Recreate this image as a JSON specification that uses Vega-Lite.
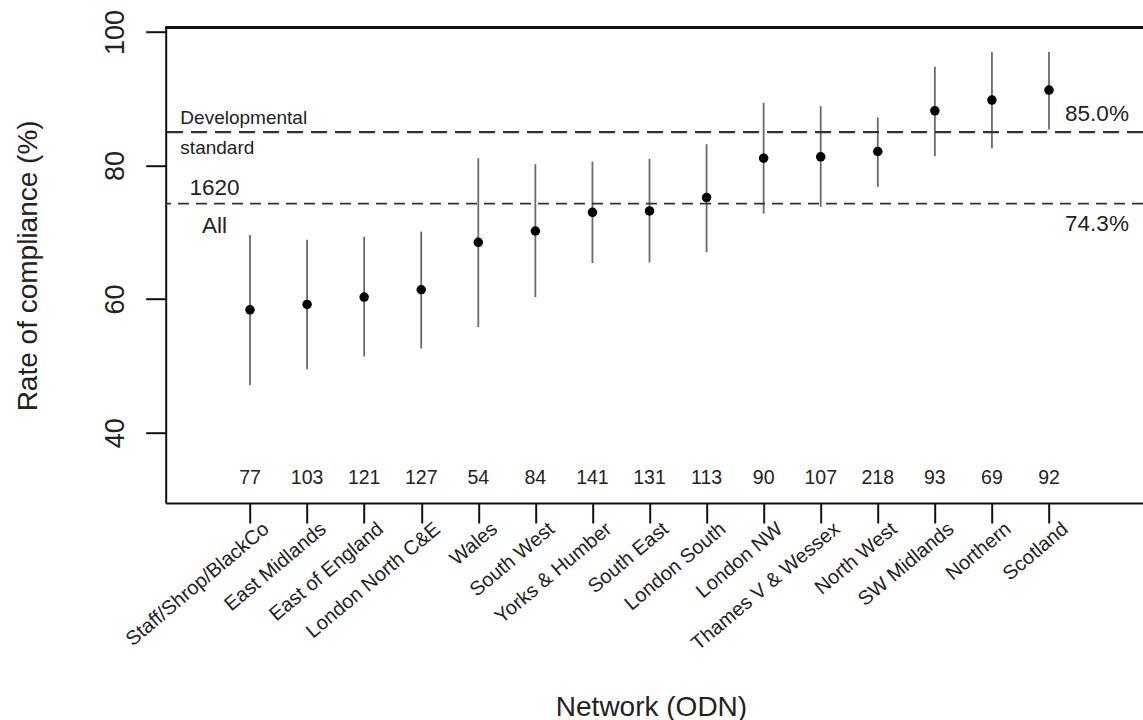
{
  "$schema": "https://vega.github.io/schema/vega-lite/v6.json",
  "width": 977.3,
  "height": 475.3,
  "autosize": "none",
  "padding": {"left": 165.7, "top": 27.7, "right": 0, "bottom": 217},
  "config": {
    "view": {"stroke": null},
    "font": "Liberation Sans",
    "axis": {"grid": false}
  },
  "datasets": {
    "networks": [
      {"rank": 1, "network": "Staff/Shrop/BlackCo", "rate": 58.4, "lower": 47.1, "upper": 69.6, "n": 77},
      {"rank": 2, "network": "East Midlands", "rate": 59.2, "lower": 49.5, "upper": 68.9, "n": 103},
      {"rank": 3, "network": "East of England", "rate": 60.3, "lower": 51.4, "upper": 69.3, "n": 121},
      {"rank": 4, "network": "London North C&E", "rate": 61.4, "lower": 52.6, "upper": 70.1, "n": 127},
      {"rank": 5, "network": "Wales", "rate": 68.5, "lower": 55.8, "upper": 81.1, "n": 54},
      {"rank": 6, "network": "South West", "rate": 70.2, "lower": 60.3, "upper": 80.2, "n": 84},
      {"rank": 7, "network": "Yorks & Humber", "rate": 73.0, "lower": 65.4, "upper": 80.6, "n": 141},
      {"rank": 8, "network": "South East", "rate": 73.2, "lower": 65.5, "upper": 81.0, "n": 131},
      {"rank": 9, "network": "London South", "rate": 75.2, "lower": 67.0, "upper": 83.2, "n": 113},
      {"rank": 10, "network": "London NW", "rate": 81.1, "lower": 72.8, "upper": 89.4, "n": 90},
      {"rank": 11, "network": "Thames V & Wessex", "rate": 81.3, "lower": 73.8, "upper": 88.9, "n": 107},
      {"rank": 12, "network": "North West", "rate": 82.1, "lower": 76.8, "upper": 87.2, "n": 218},
      {"rank": 13, "network": "SW Midlands", "rate": 88.2, "lower": 81.4, "upper": 94.8, "n": 93},
      {"rank": 14, "network": "Northern", "rate": 89.8, "lower": 82.6, "upper": 97.0, "n": 69},
      {"rank": 15, "network": "Scotland", "rate": 91.3, "lower": 85.4, "upper": 97.0, "n": 92}
    ],
    "refs": [
      {"name": "standard", "label": "Developmental standard", "value": 85.0, "pct": "85.0%"},
      {"name": "all", "label": "All", "n": 1620, "value": 74.3, "pct": "74.3%"}
    ]
  },
  "data": {"name": "networks"},
  "layer": [
    {
      "mark": {"type": "rule", "color": "#6a6a6a", "strokeWidth": 1.8},
      "encoding": {
        "x": {
          "field": "rank",
          "type": "quantitative",
          "title": "Network (ODN)",
          "scale": {"domain": [-0.4771, 16.647], "nice": false, "zero": false},
          "axis": {
            "orient": "bottom",
            "values": [1, 2, 3, 4, 5, 6, 7, 8, 9, 10, 11, 12, 13, 14, 15],
            "labelExpr": "['Staff/Shrop/BlackCo','East Midlands','East of England','London North C&E','Wales','South West','Yorks & Humber','South East','London South','London NW','Thames V & Wessex','North West','SW Midlands','Northern','Scotland'][datum.value - 1]",
            "tickSize": 20,
            "tickWidth": 2,
            "tickColor": "#111",
            "domainColor": "#111",
            "domainWidth": 2,
            "labelAngle": -40,
            "labelAlign": "right",
            "labelBaseline": "middle",
            "labelPadding": 3,
            "labelOffset": 16,
            "labelFontSize": 20,
            "labelColor": "#222",
            "labelFlush": false,
            "labelOverlap": false,
            "labelBound": false,
            "labelLimit": 400,
            "titleFontSize": 28,
            "titleFontWeight": "normal",
            "titleColor": "#222",
            "titleX": 485.3,
            "titleY": 212,
            "titleAlign": "center",
            "titleBaseline": "alphabetic"
          }
        },
        "y": {
          "field": "lower",
          "type": "quantitative",
          "title": "Rate of compliance (%)",
          "scale": {"domain": [29.47, 100.64], "nice": false, "zero": false},
          "axis": {
            "orient": "left",
            "values": [40, 60, 80, 100],
            "tickSize": 20,
            "tickWidth": 2,
            "tickColor": "#111",
            "domainColor": "#111",
            "domainWidth": 2,
            "labelAngle": 270,
            "labelAlign": "center",
            "labelBaseline": "alphabetic",
            "labelPadding": 22.4,
            "labelFontSize": 27,
            "labelColor": "#222",
            "labelFlush": false,
            "labelOverlap": false,
            "titleFontSize": 28,
            "titleFontWeight": "normal",
            "titleColor": "#222",
            "titleAngle": 270,
            "titleX": -137.7,
            "titleY": 237.65,
            "titleAlign": "center",
            "titleBaseline": "middle"
          }
        },
        "y2": {"field": "upper"}
      }
    },
    {
      "mark": {"type": "circle", "color": "black", "opacity": 1, "size": 90},
      "encoding": {
        "x": {"field": "rank", "type": "quantitative", "title": "Network (ODN)"},
        "y": {"field": "rate", "type": "quantitative", "title": "Rate of compliance (%)"}
      }
    },
    {
      "mark": {"type": "text", "fontSize": 19.5, "color": "#222", "baseline": "middle", "align": "center"},
      "encoding": {
        "x": {"field": "rank", "type": "quantitative", "title": "Network (ODN)"},
        "y": {"datum": 33.21, "type": "quantitative", "title": "Rate of compliance (%)"},
        "text": {"field": "n"}
      }
    },
    {
      "mark": {"type": "rule", "color": "#111", "strokeWidth": 2},
      "encoding": {
        "y": {"datum": 100.64, "type": "quantitative", "title": "Rate of compliance (%)"}
      }
    },
    {
      "data": {"name": "refs"},
      "transform": [{"filter": "datum.name === 'standard'"}],
      "mark": {"type": "rule", "color": "#333", "strokeWidth": 2.3, "strokeDash": [16, 8]},
      "encoding": {
        "y": {"field": "value", "type": "quantitative", "title": "Rate of compliance (%)"}
      }
    },
    {
      "data": {"name": "refs"},
      "transform": [{"filter": "datum.name === 'all'"}],
      "mark": {"type": "rule", "color": "#333", "strokeWidth": 1.8, "strokeDash": [11, 7]},
      "encoding": {
        "y": {"field": "value", "type": "quantitative", "title": "Rate of compliance (%)"}
      }
    },
    {
      "data": {"name": "refs"},
      "transform": [{"filter": "datum.name === 'standard'"}],
      "mark": {"type": "text", "fontSize": 19, "color": "#222", "align": "left", "baseline": "middle", "lineBreak": " ", "lineHeight": 29.7, "dy": -14},
      "encoding": {
        "x": {"datum": -0.22, "type": "quantitative"},
        "y": {"field": "value", "type": "quantitative", "title": "Rate of compliance (%)"},
        "text": {"field": "label"}
      }
    },
    {
      "data": {"name": "refs"},
      "transform": [{"filter": "datum.name === 'standard'"}],
      "mark": {"type": "text", "fontSize": 22.5, "color": "#222", "align": "right", "baseline": "middle", "dy": -18},
      "encoding": {
        "x": {"datum": 16.4, "type": "quantitative"},
        "y": {"field": "value", "type": "quantitative", "title": "Rate of compliance (%)"},
        "text": {"field": "pct"}
      }
    },
    {
      "data": {"name": "refs"},
      "transform": [{"filter": "datum.name === 'all'"}],
      "mark": {"type": "text", "fontSize": 22.5, "color": "#222", "align": "right", "baseline": "middle", "dy": 20},
      "encoding": {
        "x": {"datum": 16.4, "type": "quantitative"},
        "y": {"field": "value", "type": "quantitative", "title": "Rate of compliance (%)"},
        "text": {"field": "pct"}
      }
    },
    {
      "data": {"name": "refs"},
      "transform": [{"filter": "datum.name === 'all'"}],
      "mark": {"type": "text", "fontSize": 22.5, "color": "#222", "align": "center", "baseline": "middle", "dy": -16},
      "encoding": {
        "x": {"datum": 0.378, "type": "quantitative"},
        "y": {"field": "value", "type": "quantitative", "title": "Rate of compliance (%)"},
        "text": {"field": "n"}
      }
    },
    {
      "data": {"name": "refs"},
      "transform": [{"filter": "datum.name === 'all'"}],
      "mark": {"type": "text", "fontSize": 22.5, "color": "#222", "align": "center", "baseline": "middle", "dy": 22},
      "encoding": {
        "x": {"datum": 0.378, "type": "quantitative"},
        "y": {"field": "value", "type": "quantitative", "title": "Rate of compliance (%)"},
        "text": {"field": "label"}
      }
    }
  ]
}
